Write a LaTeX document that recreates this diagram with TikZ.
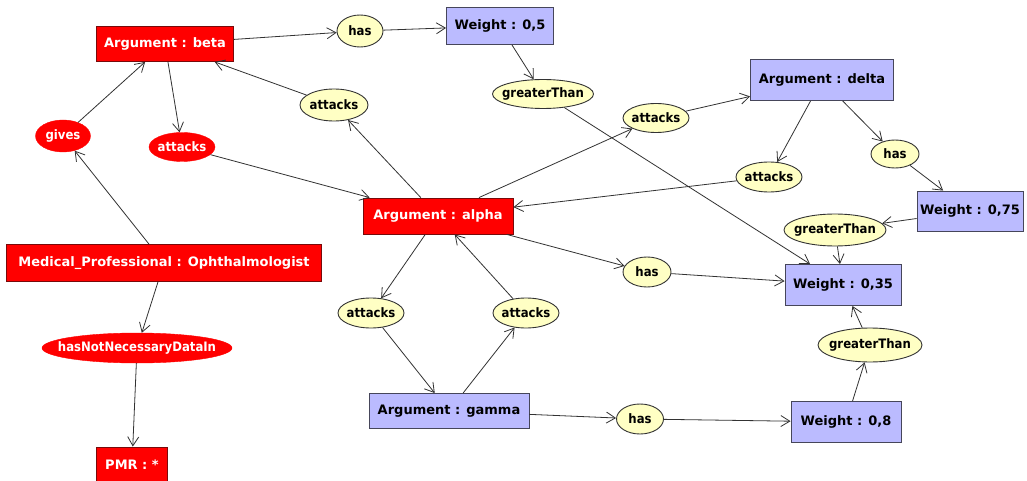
\documentclass[tikz,border=0pt]{standalone}
\usepackage{fontspec}
\setmainfont{DejaVu Sans}
\newfontfamily\relfont{DejaVu Sans Condensed}
\usetikzlibrary{arrows.meta,shapes.geometric}
\definecolor{argred}{RGB}{255,0,0}
\definecolor{argredline}{RGB}{120,10,10}
\definecolor{valblue}{RGB}{187,187,255}
\definecolor{valline}{RGB}{70,70,90}
\definecolor{relyellow}{RGB}{255,255,196}
\definecolor{edgegray}{RGB}{50,50,50}
% relation labels take no width, so the ellipse keeps its given size
\newcommand{\rellabel}[1]{\makebox[0pt][c]{#1}}
\tikzset{
  base/.style={font=\bfseries\fontsize{13}{15}\selectfont, inner sep=0pt},
  relbase/.style={font=\relfont\bfseries\fontsize{13}{15}\selectfont, inner sep=0pt, ellipse},
  redbox/.style={base, rectangle, fill=argred, draw=argredline, line width=0.9pt, text=white},
  bluebox/.style={base, rectangle, fill=valblue, draw=valline, line width=0.9pt, text=black},
  yellowell/.style={relbase, fill=relyellow, draw=black!80, line width=0.9pt, text=black},
  redell/.style={relbase, fill=argred, draw=argred, text=white},
  link/.style={draw=edgegray, line width=0.8pt, -{Straight Barb[length=9pt,width=11pt]}},
  sz/.style 2 args={minimum width=#1pt, minimum height=#2pt}
}
\begin{document}
\begin{tikzpicture}[x=1pt,y=-1pt]
\useasboundingbox[fill=white] (0,0) rectangle (1027,481);

% argument and value nodes
\node[redbox, sz={137}{35}] (beta) at (165,44) {Argument : beta};
\node[redbox, sz={150}{36}] (alpha) at (438,216) {Argument : alpha};
\node[redbox, sz={315}{37}] (med) at (164,263) {Medical\_Professional : Ophthalmologist};
\node[redbox, sz={71}{36}] (pmr) at (132,465) {PMR : *};
\node[bluebox, sz={107}{37}] (w05) at (500,26) {Weight : 0,5};
\node[bluebox, sz={143}{41}] (delta) at (822,80) {Argument : delta};
\node[bluebox, sz={106}{40}] (w075) at (970,211) {Weight : 0,75};
\node[bluebox, sz={116}{41}] (w035) at (843,285) {Weight : 0,35};
\node[bluebox, sz={110}{41}] (w08) at (846,422) {Weight : 0,8};
\node[bluebox, sz={160}{35}] (gamma) at (449,411) {Argument : gamma};

% relation nodes
\node[yellowell, sz={46}{32}] (hasB) at (360,31) {\rellabel{has}};
\node[yellowell, sz={101}{29}] (gtA) at (543,94) {\rellabel{greaterThan}};
\node[yellowell, sz={68}{32}] (atkB) at (334,105) {\rellabel{attacks}};
\node[yellowell, sz={66}{29}] (atkD) at (656,118) {\rellabel{attacks}};
\node[yellowell, sz={48}{28}] (hasD) at (895,154) {\rellabel{has}};
\node[yellowell, sz={66}{30}] (atkDA) at (769,177) {\rellabel{attacks}};
\node[yellowell, sz={102}{32}] (gtB) at (835,230) {\rellabel{greaterThan}};
\node[yellowell, sz={104}{34}] (gtC) at (870,345) {\rellabel{greaterThan}};
\node[yellowell, sz={48}{30}] (hasA) at (647,272) {\rellabel{has}};
\node[yellowell, sz={66}{30}] (atkL) at (371,313) {\rellabel{attacks}};
\node[yellowell, sz={66}{30}] (atkR) at (526,313) {\rellabel{attacks}};
\node[yellowell, sz={47}{30}] (hasG) at (640,419) {\rellabel{has}};
\node[redell, sz={55}{32}] (gives) at (63,136) {\rellabel{gives}};
\node[redell, sz={66}{29}] (atkRed) at (182,147) {\rellabel{attacks}};
\node[redell, sz={190}{30}] (hasNot) at (137,348) {\rellabel{hasNotNecessaryDataIn}};

% connectors
\draw[link] (beta) -- (hasB);
\draw[link] (hasB) -- (w05);
\draw[link] (w05) -- (gtA);
\draw[link] (gtA) -- (w035);
\draw[link] (alpha) -- (atkB);
\draw[link] (atkB) -- (beta);
\draw[link] (beta) -- (atkRed);
\draw[link] (atkRed) -- (alpha);
\draw[link] (alpha) -- (atkD);
\draw[link] (atkD) -- (delta);
\draw[link] (delta) -- (atkDA);
\draw[link] (atkDA) -- (alpha);
\draw[link] (delta) -- (hasD);
\draw[link] (hasD) -- (w075);
\draw[link] (w075) -- (gtB);
\draw[link] (gtB) -- (w035);
\draw[link] (alpha) -- (hasA);
\draw[link] (hasA) -- (w035);
\draw[link] (alpha) -- (atkL);
\draw[link] (atkL) -- (gamma);
\draw[link] (gamma) -- (atkR);
\draw[link] (atkR) -- (alpha);
\draw[link] (gamma) -- (hasG);
\draw[link] (hasG) -- (w08);
\draw[link] (w08) -- (gtC);
\draw[link] (gtC) -- (w035);
\draw[link] (med) -- (gives);
\draw[link] (gives) -- (beta);
\draw[link] (med) -- (hasNot);
\draw[link] (hasNot) -- (pmr);
\end{tikzpicture}
\end{document}
